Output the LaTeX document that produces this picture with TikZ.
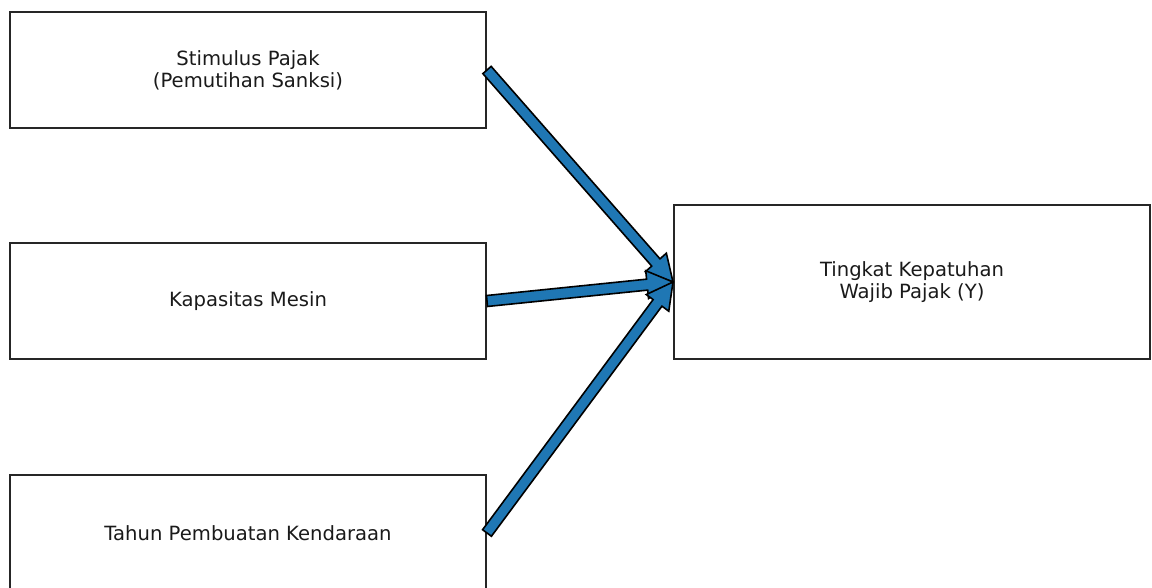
\documentclass[tikz,border=0pt]{standalone}
\usepackage{fontspec}
\setmainfont{DejaVu Sans}
\usetikzlibrary{calc}
\definecolor{arrowblue}{HTML}{1F77B4}
\definecolor{textgray}{HTML}{1A1A1A}
\tikzset{
  box/.style={draw=black!85, line width=2pt, fill=white, minimum width=476pt, minimum height=116pt,
    align=center, inner sep=0pt, font=\fontsize{19.6}{22}\selectfont, text=textgray},
  fatarrow/.style={draw=black, line width=1.6pt, fill=arrowblue, line join=miter}
}
\newcommand\fatarrowdraw[2]{%
  \coordinate (h) at ($(#2)!26pt!(#1)$);
  \draw[fatarrow] ($(#1)!5.5pt!90:(#2)$) -- ($(h)!5.5pt!-90:(#1)$) -- ($(h)!14pt!-90:(#1)$) -- (#2)
    -- ($(h)!14pt!90:(#1)$) -- ($(h)!5.5pt!90:(#1)$) -- ($(#1)!5.5pt!-90:(#2)$) -- cycle;
}
\begin{document}
\begin{tikzpicture}[x=1pt,y=-1pt]
  \useasboundingbox (0,0) rectangle (1152,588);
  \node[box] (s1) at (248,70) {Stimulus Pajak\\(Pemutihan Sanksi)};
  \node[box] (s2) at (248,301) {Kapasitas Mesin};
  \node[box] (s3) at (248,533) {Tahun Pembuatan Kendaraan};
  \node[box, minimum height=154pt] (t) at (912,282) {Tingkat Kepatuhan\\Wajib Pajak (Y)};
  \coordinate (a1) at (s1.east);
  \coordinate (a2) at (s2.east);
  \coordinate (a3) at (s3.east);
  \coordinate (tw) at (t.west);
  \fatarrowdraw{a1}{tw}
  \fatarrowdraw{a2}{tw}
  \fatarrowdraw{a3}{tw}
\end{tikzpicture}
\end{document}
